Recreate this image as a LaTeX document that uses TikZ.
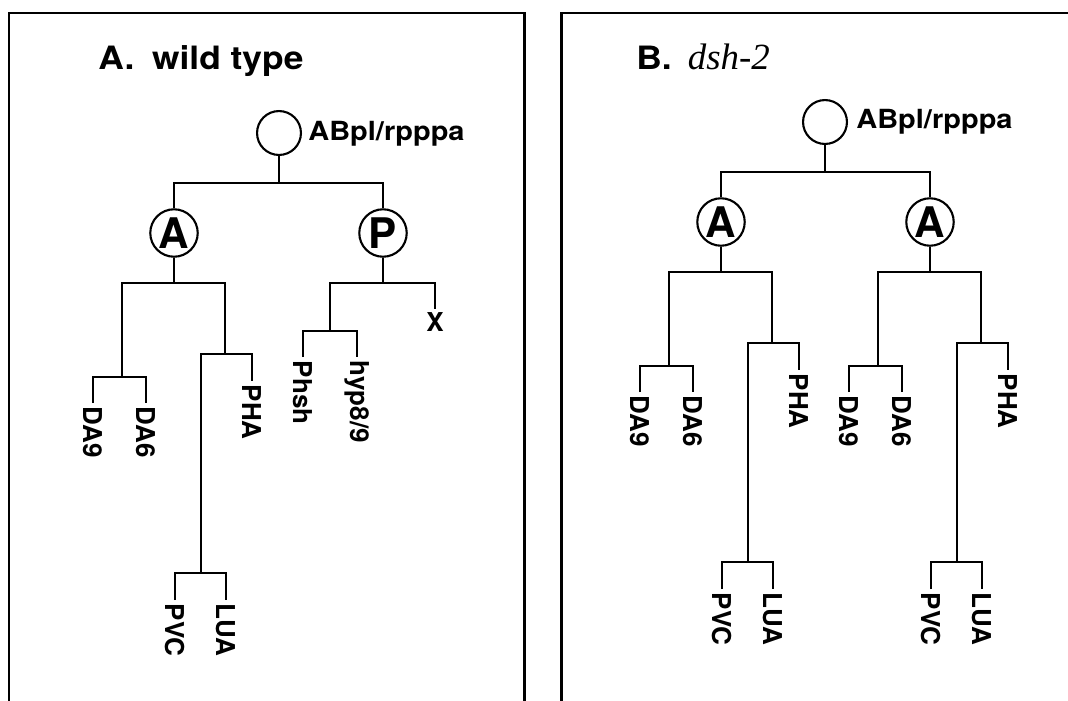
\documentclass[tikz,border=0pt]{standalone}
\usepackage{fontspec}
\setmainfont{TeX Gyre Heros}
\newfontfamily\widehelv{TeX Gyre Heros}[FakeStretch=1.1]
\newfontfamily\geneit{Liberation Serif}
\newcommand\ttlfont{\widehelv\bfseries\fontsize{18.3}{21}\selectfont}
\newcommand\namefont{\widehelv\bfseries\fontsize{15}{18}\selectfont}
\newcommand\lblfont{\bfseries\fontsize{14.8}{17}\selectfont}
\newcommand\fatefont{\bfseries\fontsize{24}{26}\selectfont}

\tikzset{
  lin/.style={line width=1.3pt},
  frame/.style={line width=1.7pt},
  root/.style={circle,draw,line width=1.2pt,minimum size=25pt,inner sep=0pt},
  fate/.style={circle,draw,line width=1.2pt,minimum size=27pt,inner sep=0pt,font=\fatefont},
  leaf/.style={rotate=-90,anchor=west,inner sep=2pt,font=\lblfont},
  % anterior-type lineage, hung below its A circle
  alin/.pic={
    \node[fate] (-c) at (0,0) {A};
    \coordinate (-k) at (0,50);
    \coordinate (-ka) at (-52,144);
    \coordinate (-kp) at (51,121);
    \coordinate (-kl) at (27,340);
    \node[leaf] (-da9) at (-81,170) {DA9};
    \node[leaf] (-da6) at (-28,170) {DA6};
    \node[leaf] (-pha) at (78,148) {PHA};
    \node[leaf] (-pvc) at (1,367) {PVC};
    \node[leaf] (-lua) at (52,367) {LUA};
    \draw[lin] (-c) -- (-k);
    \draw[lin] (-ka) |- (-k) -| (-kp);
    \draw[lin] (-da9) |- (-ka) -| (-da6);
    \draw[lin] (-kl) |- (-kp) -| (-pha);
    \draw[lin] (-pvc) |- (-kl) -| (-lua);
  }
}

\begin{document}
\begin{tikzpicture}[x=0.02cm,y=-0.02cm]
  \useasboundingbox[fill=white] (0,0) rectangle (1068,700);
  \draw[frame] (9,13) rectangle (524,740);
  \draw[frame] (561,13) rectangle (1090,740);

  % wild type
  \node[anchor=base west,inner sep=0pt,font=\ttlfont] (ttlA) at (98,69) {A.\hspace{0.55em}wild type};
  \node[root] (rootA) at (279,133) {};
  \node[anchor=west,inner sep=0pt,font=\namefont] (nameA) at (308,134) {ABpl/rpppa};
  \coordinate (jA) at (279,183);
  \pic (antA) at (174,233) {alin};
  \node[fate] (postA) at (383,233) {P};
  \coordinate (jP) at (383,283);
  \coordinate (jPa) at (330,331);
  \node[anchor=north,inner sep=2pt,font=\lblfont] (xA) at (435,309) {X};
  \node[leaf] (phsh) at (303,357) {Phsh};
  \node[leaf] (hyp) at (357,357) {hyp8/9};
  \draw[lin] (rootA) -- (jA);
  \draw[lin] (antA-c) |- (jA) -| (postA);
  \draw[lin] (postA) -- (jP);
  \draw[lin] (jPa) |- (jP) -| (xA);
  \draw[lin] (phsh) |- (jPa) -| (hyp);

  % dsh-2 mutant
  \node[anchor=base west,inner sep=0pt,font=\ttlfont] (ttlB) at (636,69)
    {B.\hspace{0.5em}{\geneit\mdseries\itshape\fontsize{21}{24}\selectfont dsh-2}};
  \node[root] (rootB) at (825,122) {};
  \node[anchor=west,inner sep=0pt,font=\namefont] (nameB) at (856,122) {ABpl/rpppa};
  \coordinate (jB) at (825,172);
  \pic (antB) at (721,222) {alin};
  \pic (postB) at (930,222) {alin};
  \draw[lin] (rootB) -- (jB);
  \draw[lin] (antB-c) |- (jB) -| (postB-c);
\end{tikzpicture}
\end{document}
